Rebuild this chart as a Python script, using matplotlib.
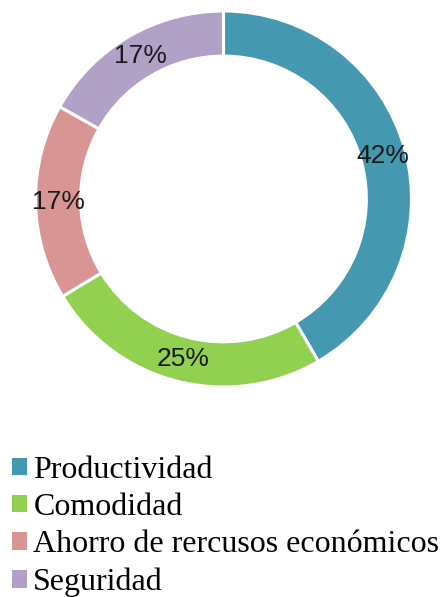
import matplotlib
matplotlib.use("Agg")
import matplotlib.pyplot as plt
from matplotlib.patches import Patch
import numpy as np

categories = ["Productividad", "Comodidad", "Ahorro de rercusos económicos", "Seguridad"]
values = [42, 25, 17, 17]
colors = ["#4499B1", "#92D050", "#D99594", "#B2A1C7"]

fig = plt.figure(figsize=(4.42, 5.97), dpi=100)
ax = fig.add_axes([0.0803, 0.3518, 0.8507, 0.6298])

ring = 0.24
wedges, _ = ax.pie(
    values,
    colors=colors,
    startangle=90,
    counterclock=False,
    radius=1.0,
    wedgeprops=dict(width=ring, edgecolor="white", linewidth=2.2),
)
ax.set_xlim(-1, 1)
ax.set_ylim(-1, 1)
ax.set_aspect("equal")
ax.axis("off")

label_r = 1.0 - ring / 2
for w, v in zip(wedges, values):
    ang = np.deg2rad((w.theta1 + w.theta2) / 2)
    ax.text(label_r * np.cos(ang), label_r * np.sin(ang), f"{v}%",
            ha="center", va="center", fontsize=19,
            family="Liberation Sans", color="#1a1a1a")

handles = [Patch(facecolor=c, edgecolor="none") for c in colors]
fig.legend(handles, categories, loc="upper left",
           bbox_to_anchor=(0.027, 0.2366), frameon=False,
           prop=dict(family="Liberation Serif", size=23),
           handlelength=0.47, handleheight=0.47, handletextpad=0.2,
           labelspacing=0.26, borderaxespad=0.0, borderpad=0.0)

fig.savefig("out.png", dpi=100, facecolor="white")
